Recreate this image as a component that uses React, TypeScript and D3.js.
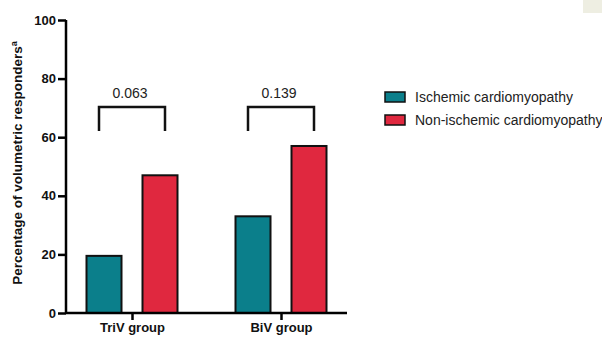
import React, { useRef, useEffect } from 'react';
import * as d3 from 'd3';

const groups = ['TriV group', 'BiV group'];
const series = ['Ischemic cardiomyopathy', 'Non-ischemic cardiomyopathy'];
const ischemicValues = [19.5, 33];
const nonIschemicValues = [47, 57];
const pValues = ['0.063', '0.139'];
const yTicks = [0, 20, 40, 60, 80, 100];
const colors = ['#0b7f8b', '#e0283f'];

const App = () => {
  const svgRef = useRef<SVGSVGElement>(null);

  useEffect(() => {
    const svg = d3.select(svgRef.current);
    svg.selectAll('*').remove();
    const font = 'Liberation Sans, Arial, sans-serif';

    const y = d3.scaleLinear().domain([0, 100]).range([313, 20]);
    const x0 = d3.scalePoint<string>().domain(groups).range([132, 281]);
    const x1 = d3.scaleBand<string>().domain(series).range([-45.5, 45.5]).paddingInner(0.375);

    svg.append('rect').attr('x', 583).attr('y', 0).attr('width', 19).attr('height', 13).attr('fill', '#eeeee2');

    // bars
    const rows = groups.map((g, i) => ({ g, vals: [ischemicValues[i], nonIschemicValues[i]] }));
    const gg = svg.selectAll('g.grp').data(rows).enter().append('g')
      .attr('transform', d => `translate(${x0(d.g)},0)`);
    gg.selectAll('rect').data(d => d.vals.map((v, j) => ({ v, s: series[j], j }))).enter().append('rect')
      .attr('x', d => x1(d.s)!)
      .attr('width', x1.bandwidth())
      .attr('y', d => y(d.v))
      .attr('height', d => y(0) - y(d.v))
      .attr('fill', d => colors[d.j])
      .attr('stroke', '#111')
      .attr('stroke-width', 2);

    // brackets
    gg.append('path')
      .attr('d', 'M-33,131V107H33V131')
      .attr('fill', 'none').attr('stroke', '#111').attr('stroke-width', 2.5);
    gg.append('text')
      .text((d, i) => pValues[i])
      .attr('x', -2).attr('y', 98)
      .attr('text-anchor', 'middle')
      .attr('font-family', font).attr('font-size', 14).attr('fill', '#222');

    // y axis
    const yAxis = svg.append('g').attr('transform', 'translate(66,0)')
      .call(d3.axisLeft(y).tickValues(yTicks).tickSize(8).tickPadding(2));
    yAxis.select('.domain').attr('stroke-width', 2.5).attr('d', `M0,${y(100)}V${y(0)}`);
    yAxis.selectAll('line').attr('stroke-width', 2.5);
    yAxis.selectAll('text').attr('font-family', font).attr('font-size', 13).attr('font-weight', 'bold').attr('fill', '#111');

    // x axis
    const xAxis = svg.append('g').attr('transform', `translate(0,${y(0)})`)
      .call(d3.axisBottom(x0).tickSize(7).tickPadding(3));
    xAxis.select('.domain').attr('stroke-width', 2.5).attr('d', 'M66,0H347');
    xAxis.selectAll('line').attr('stroke-width', 2.5);
    xAxis.selectAll('text').attr('font-family', font).attr('font-size', 13).attr('font-weight', 'bold').attr('fill', '#111');

    // y title
    const t = svg.append('text')
      .attr('transform', 'translate(22,163) rotate(-90)')
      .attr('text-anchor', 'middle')
      .attr('font-family', font).attr('font-size', 13.5).attr('font-weight', 'bold').attr('fill', '#111');
    t.append('tspan').text('Percentage of volumetric responders');
    t.append('tspan').text('a').attr('font-size', 9).attr('dy', -5);

    // legend
    const lg = svg.selectAll('g.leg').data(series).enter().append('g')
      .attr('transform', (d, i) => `translate(385,${92 + i * 23})`);
    lg.append('rect').attr('width', 20).attr('height', 10)
      .attr('fill', (d, i) => colors[i]).attr('stroke', '#111').attr('stroke-width', 1.5);
    lg.append('text').text(d => d).attr('x', 30).attr('y', 10)
      .attr('font-family', font).attr('font-size', 14).attr('fill', '#222');
  }, []);

  return (
    <svg ref={svgRef} width={602} height={337} style={{ position: 'absolute', left: 0, top: 0, background: '#fff' }}></svg>
  );
};

export default App;
